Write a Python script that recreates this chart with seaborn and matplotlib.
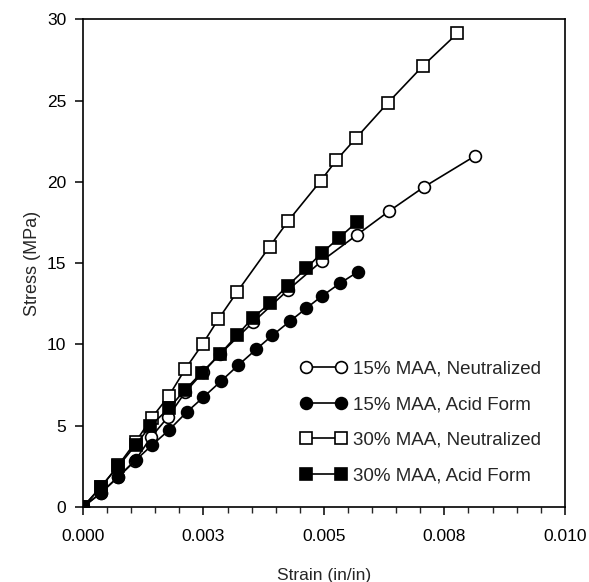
import matplotlib
matplotlib.use("Agg")
import matplotlib.pyplot as plt
import seaborn as sns
import pandas as pd
from matplotlib.ticker import MultipleLocator, FixedLocator, FixedFormatter

sns.set_style("ticks")
plt.rcParams['font.family'] = ['Liberation Sans', 'DejaVu Sans']

# 15% MAA, Neutralized (open circles)
n15_strain = [0, 0.000367, 0.000733, 0.00108, 0.00141, 0.00176, 0.00212, 0.00249, 0.00284,
              0.00353, 0.00425, 0.00496, 0.00568, 0.00635, 0.00708, 0.00813]
n15_stress = [0, 0.84, 1.87, 2.85, 4.29, 5.52, 7.06, 8.29, 9.40,
              11.37, 13.34, 15.15, 16.73, 18.20, 19.70, 21.59]

# 15% MAA, Acid Form (filled circles)
a15_strain = [0, 0.000367, 0.000733, 0.00109, 0.00143, 0.00178, 0.00215, 0.00250, 0.00286,
              0.00322, 0.00359, 0.00393, 0.00429, 0.00463, 0.00495, 0.00533, 0.00571]
a15_stress = [0, 0.86, 1.85, 2.87, 3.80, 4.72, 5.83, 6.76, 7.73,
              8.72, 9.69, 10.56, 11.42, 12.22, 12.96, 13.76, 14.48]

# 30% MAA, Neutralized (open squares)
n30_strain = [0, 0.000367, 0.000733, 0.00109, 0.00143, 0.00178, 0.00212, 0.00248, 0.00281,
              0.00319, 0.00387, 0.00426, 0.00493, 0.00526, 0.00566, 0.00633, 0.00706, 0.00777]
n30_stress = [0, 1.2, 2.57, 4.0, 5.5, 6.83, 8.48, 10.02, 11.56,
              13.20, 16.01, 17.61, 20.06, 21.35, 22.68, 24.88, 27.16, 29.15]

# 30% MAA, Acid Form (filled squares)
a30_strain = [0, 0.000367, 0.000733, 0.00109, 0.00139, 0.00178, 0.00212, 0.00246, 0.00284,
              0.00320, 0.00352, 0.00388, 0.00425, 0.00463, 0.00495, 0.00531, 0.00569]
a30_stress = [0, 1.23, 2.51, 3.80, 4.97, 6.06, 7.22, 8.26, 9.40,
              10.58, 11.63, 12.54, 13.62, 14.68, 15.62, 16.55, 17.55]

labels = ["15% MAA, Neutralized", "15% MAA, Acid Form",
          "30% MAA, Neutralized", "30% MAA, Acid Form"]

x_ticks = [0, 0.0025, 0.005, 0.0075, 0.010]
x_ticklabels = ["0.000", "0.003", "0.005", "0.008", "0.010"]
y_ticks = [0, 5, 10, 15, 20, 25, 30]

series = [
    (n15_strain, n15_stress, "o", "white", 8.5),
    (a15_strain, a15_stress, "o", "black", 8.5),
    (n30_strain, n30_stress, "s", "white", 8.0),
    (a30_strain, a30_stress, "s", "black", 8.0),
]

fig = plt.figure(figsize=(5.89, 5.82), dpi=100)
ax = fig.add_axes([0.141, 0.129, 0.818, 0.8375])

for (xs, ys, mk, fc, ms), lab in zip(series, labels):
    df = pd.DataFrame({"strain": xs, "stress": ys})
    sns.lineplot(data=df, x="strain", y="stress", ax=ax, sort=False,
                 color="black", linewidth=1.2, marker=mk, markersize=ms,
                 markerfacecolor=fc, markeredgecolor="black", markeredgewidth=1.2,
                 label=lab, estimator=None)

ax.set_xlim(0, 0.010)
ax.set_ylim(0, 30)
ax.xaxis.set_major_locator(FixedLocator(x_ticks))
ax.xaxis.set_major_formatter(FixedFormatter(x_ticklabels))
ax.xaxis.set_minor_locator(MultipleLocator(0.0005))
ax.yaxis.set_major_locator(FixedLocator(y_ticks))
ax.tick_params(axis="both", which="major", direction="out", length=6, width=1.1,
               labelsize=12.5, colors="black")
ax.tick_params(axis="x", which="major", pad=10)
ax.tick_params(axis="y", which="major", pad=6)
ax.tick_params(axis="x", which="minor", direction="out", length=4, width=1.0)
for s in ax.spines.values():
    s.set_visible(True)
    s.set_linewidth(1.2)
    s.set_color("black")

ax.set_xlabel("Strain (in/in)", fontsize=12.5, labelpad=17)
ax.set_ylabel("Stress (MPa)", fontsize=13, labelpad=4)

leg = ax.legend(loc="lower right", bbox_to_anchor=(0.985, 0.012), frameon=False,
                numpoints=2, handlelength=2.45, labelspacing=0.98, fontsize=13.5,
                handletextpad=0.35)

fig.savefig("out.png", dpi=100)
